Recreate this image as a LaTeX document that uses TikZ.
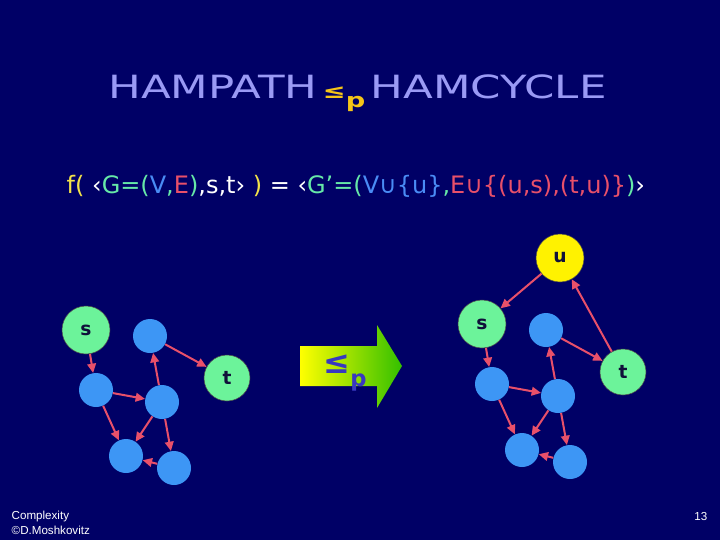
\documentclass[tikz,border=0pt]{standalone}
\usepackage{fontspec}
\setmainfont{DejaVu Sans}
\newfontfamily\comicf[FakeStretch=1.36]{DejaVu Sans}
\newfontfamily\arialf{Liberation Sans}
\usetikzlibrary{arrows.meta}
\definecolor{bg}{HTML}{000066}
\definecolor{lav}{HTML}{9A9AF5}
\definecolor{gold}{HTML}{F5C518}
\definecolor{mint}{HTML}{6CF39A}
\definecolor{sky}{HTML}{3D96F5}
\definecolor{rose}{HTML}{E8506A}
\definecolor{ink}{HTML}{10103A}
\definecolor{fy}{HTML}{F2E24A}
\definecolor{fg}{HTML}{66E8A8}
\definecolor{fb}{HTML}{4A8CF5}
\definecolor{fr}{HTML}{E8506A}
\definecolor{arrg}{HTML}{33C000}
\definecolor{leb}{HTML}{3838C0}

\begin{document}
\begin{tikzpicture}[x=0.75pt,y=-0.75pt,
    vtx/.style={circle,fill=sky,minimum size=25.5pt,inner sep=0pt},
    term/.style={circle,fill=mint,draw=black!70,minimum size=36pt,inner sep=0pt,
      text=ink,font=\bfseries\fontsize{14}{14}\selectfont},
    edg/.style={rose,line width=1.5pt,-{Triangle[length=7pt,width=6.5pt]}},
    foot/.style={text=white,font=\arialf\fontsize{8.7}{10}\selectfont}]
  \fill[bg] (0,0) rectangle (720,540);
  \node[anchor=base,text=lav,font=\comicf\fontsize{24}{28}\selectfont] (ttl) at (357.5,98)
    {HAMPATH\,{\color{gold}\bfseries\fontsize{15}{15}\selectfont≤\raisebox{-.45em}{p}}\,HAMCYCLE};
  \node[anchor=base west,text=white,font=\fontsize{18}{22}\selectfont] (map) at (62,193)
    {{\color{fy}f(} ‹{\color{fg}G=(}{\color{fb}V}{\color{fg},}{\color{fr}E}{\color{fg})},s,t› {\color{fy})} = ‹{\color{fg}G'=(}{\color{fb}V∪\{u\}}{\color{fg},}{\color{fr}E∪\{(u,s),(t,u)\}}{\color{fg})}›};
  \foreach \g/\dx/\dy in {l/0/0,r/396/-6}{
    \begin{scope}[shift={(\dx,\dy)}]
      \node[term] (\g-s) at (86,330) {s};
      \node[term,minimum size=34.5pt] (\g-t) at (227,378) {t};
      \foreach \i/\px/\py in {1/150/336,2/96/390,3/162/402,4/126/456,5/174/468}
        \node[vtx] (\g-\i) at (\px,\py) {};
    \end{scope}
    \foreach \a/\b in {s/2,1/t,3/1,2/3,2/4,3/4,3/5,5/4}
      \draw[edg] (\g-\a) -- (\g-\b);}
  \node[term,fill=yellow] (u) at (560,258) {u};
  \draw[edg] (u) -- (r-s);
  \draw[edg] (r-t) -- (u);
  \shade[left color=yellow,right color=arrg] (300,346) -- (377,346) -- (377,325)
    -- (402,366) -- (377,408) -- (377,386) -- (300,386) -- cycle;
  \node[text=leb,font=\bfseries\fontsize{24}{24}\selectfont] (red) at (345,373)
    {≤\raisebox{-.4em}{\fontsize{17}{17}\selectfont p}};
  \node[foot,anchor=base west] (cpx) at (7,519) {Complexity};
  \node[foot,anchor=base west] (auth) at (7,534) {©D.Moshkovitz};
  \node[foot,anchor=base east] (pg) at (712,520) {13};
\end{tikzpicture}
\end{document}
